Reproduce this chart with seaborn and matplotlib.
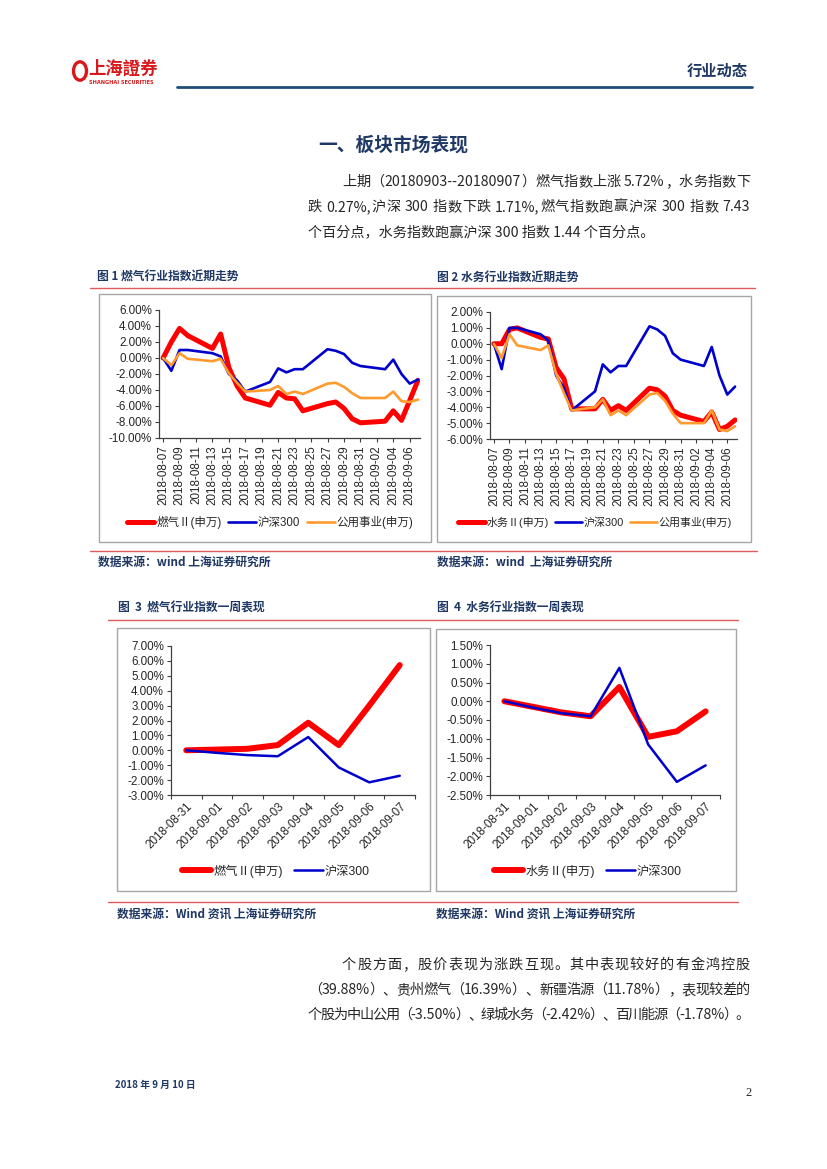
import re
import matplotlib
matplotlib.use("Agg")
import matplotlib.pyplot as plt
import matplotlib.dates as mdates
from matplotlib.lines import Line2D
from matplotlib.patches import Rectangle, Circle
from matplotlib.ticker import FuncFormatter, FixedLocator, NullFormatter
import seaborn as sns
import pandas as pd

# ---- data (percent change) ----
month_days = ["2018-08-07", "2018-08-08", "2018-08-09", "2018-08-10", "2018-08-13",
              "2018-08-14", "2018-08-15", "2018-08-16", "2018-08-17", "2018-08-20",
              "2018-08-21", "2018-08-22", "2018-08-23", "2018-08-24", "2018-08-27",
              "2018-08-28", "2018-08-29", "2018-08-30", "2018-08-31", "2018-09-03",
              "2018-09-04", "2018-09-05", "2018-09-06", "2018-09-07"]
gas_month = [0.0, 2.0, 3.7, 2.8, 1.2, 3.0, -1.2, -3.5, -5.0, -5.9,
             -4.3, -5.0, -5.1, -6.6, -5.7, -5.5, -6.3, -7.6, -8.1, -7.9,
             -6.6, -7.8, -5.3, -2.8]
water_month = [0.0, 0.0, 0.9, 1.0, 0.4, 0.3, -1.5, -2.2, -4.1, -4.1,
               -3.5, -4.2, -3.9, -4.2, -2.8, -2.9, -3.3, -4.2, -4.5, -4.9,
               -4.3, -5.4, -5.2, -4.8]
hs300_month = [0.0, -1.6, 1.0, 1.0, 0.6, 0.2, -2.0, -2.8, -4.2, -3.0,
               -1.3, -1.8, -1.4, -1.4, 1.1, 0.9, 0.5, -0.6, -1.0, -1.4,
               -0.2, -2.0, -3.2, -2.7]
utility_month = [0.0, -0.9, 0.6, -0.1, -0.4, -0.1, -1.9, -3.1, -4.2, -4.0,
                 -3.5, -4.5, -4.2, -4.5, -3.2, -3.1, -3.6, -4.4, -5.0, -5.0,
                 -4.2, -5.4, -5.5, -5.2]
month_ticks = ["2018-08-07", "2018-08-09", "2018-08-11", "2018-08-13", "2018-08-15",
               "2018-08-17", "2018-08-19", "2018-08-21", "2018-08-23", "2018-08-25",
               "2018-08-27", "2018-08-29", "2018-08-31", "2018-09-02", "2018-09-04",
               "2018-09-06"]

week_days = ["2018-08-31", "2018-09-01", "2018-09-02", "2018-09-03",
             "2018-09-04", "2018-09-05", "2018-09-06", "2018-09-07"]
gas_week = [0.00, 0.05, 0.10, 0.35, 1.85, 0.35, 3.00, 5.72]
water_week = [0.00, -0.15, -0.30, -0.40, 0.38, -0.95, -0.80, -0.27]
hs300_week = [0.00, -0.17, -0.32, -0.40, 0.89, -1.15, -2.15, -1.71]

# ---- style ----
sns.set_theme(style="ticks")
plt.rcParams['font.family'] = ['Liberation Sans', 'Noto Sans CJK SC', 'DejaVu Sans']
plt.rcParams['axes.unicode_minus'] = False

RED = "#FF0000"
BLUE = "#0000CC"
ORANGE = "#FF9A2E"
NAVY = "#1F3864"
LINE_RED = "#E05A5A"
CJK = ['Noto Sans CJK SC', 'DejaVu Sans']
TICK_SIZE = 8.4
BODY_SIZE = 10.2

W, H = 827, 1169
fig = plt.figure(figsize=(8.27, 11.69), dpi=100)
renderer = fig.canvas.get_renderer()


def rect(x0, y0, x1, y1):
    return [x0 / W, 1 - y1 / H, (x1 - x0) / W, (y1 - y0) / H]


def hline(x0, x1, y, color, lw):
    fig.add_artist(Line2D([x0 / W, x1 / W], [1 - y / H, 1 - y / H],
                          transform=fig.transFigure, color=color, lw=lw))


def frame(x0, y0, x1, y1):
    fig.add_artist(Rectangle((x0 / W, 1 - y1 / H), (x1 - x0) / W, (y1 - y0) / H,
                             transform=fig.transFigure, fill=False,
                             edgecolor="#A6A6A6", lw=1.0))


def txt(x, y, s, **kw):
    kw.setdefault("family", CJK)
    return fig.text(x / W, 1 - y / H, s, va="center", **kw)


def text_width(s, size):
    if not s:
        return 0.0
    t = fig.text(0, 0, s, fontsize=size, family=CJK)
    w = t.get_window_extent(renderer).width
    t.remove()
    return w


def justify(x0, x1, y, s, size=BODY_SIZE):
    # spread the line so that it fills x0..x1, like a justified paragraph
    toks = re.findall(r"[A-Za-z0-9.%,\-]+|\s|.", s)
    extra = (x1 - x0 - text_width(s, size)) / max(len(toks) - 1, 1)
    prefix = ""
    for i, tok in enumerate(toks):
        if tok.strip():
            txt(x0 + text_width(prefix, size) + i * extra, y, tok, fontsize=size)
        prefix += tok


def style_axes(ax, ylo, yhi, step):
    sns.despine(ax=ax)
    for sp in ("left", "bottom"):
        ax.spines[sp].set_color("#404040")
        ax.spines[sp].set_linewidth(0.9)
    ax.set_ylim(ylo, yhi)
    ax.set_yticks([ylo + i * step for i in range(int(round((yhi - ylo) / step)) + 1)])
    ax.yaxis.set_major_formatter(FuncFormatter(lambda v, p: f"{v:.2f}%"))
    ax.tick_params(axis="both", which="major", direction="out", length=3, width=0.8,
                   color="#404040", labelsize=TICK_SIZE, pad=2)
    ax.set_xlabel("")
    ax.set_ylabel("")
    ax.set_facecolor("none")


def legend(ax, cx, cy, size, colsp):
    ax.legend(loc="center", bbox_to_anchor=(cx / W, 1 - cy / H),
              bbox_transform=fig.transFigure, ncol=3, frameon=False,
              fontsize=size, handlelength=2.4, handletextpad=0.15,
              columnspacing=colsp)


# ---- month charts (date axis) ----
dates = pd.to_datetime(month_days)
month_df = pd.DataFrame({"date": dates, "gas": gas_month, "water": water_month,
                         "hs300": hs300_month, "utility": utility_month})


def month_chart(pos, main_col, main_label, ylo, yhi, step, leg_x, leg_size):
    ax = fig.add_axes(pos)
    sns.lineplot(data=month_df, x="date", y=main_col, color=RED, lw=3.6,
                 label=main_label, ax=ax, solid_joinstyle="round")
    sns.lineplot(data=month_df, x="date", y="hs300", color=BLUE, lw=1.9,
                 label="沪深300", ax=ax, solid_joinstyle="round")
    sns.lineplot(data=month_df, x="date", y="utility", color=ORANGE, lw=1.9,
                 label="公用事业(申万)", ax=ax, solid_joinstyle="round")
    style_axes(ax, ylo, yhi, step)
    ax.set_xlim(pd.Timestamp("2018-08-06 12:00"), pd.Timestamp("2018-09-07 06:00"))
    ax.set_xticks(pd.to_datetime(month_ticks))
    ax.xaxis.set_major_formatter(mdates.DateFormatter("%Y-%m-%d"))
    for lab in ax.get_xticklabels():
        lab.set_rotation(90)
    legend(ax, leg_x, 522, leg_size, 0.6)
    return ax


month_chart(rect(159, 310, 420, 438), "gas", "燃气Ⅱ(申万)", -10, 6, 2, 270, 8.3)
month_chart(rect(490, 312, 737, 439), "water", "水务Ⅱ(申万)", -6, 2, 1, 595, 7.9)

# ---- week charts (category axis) ----
week_df = pd.DataFrame({"pos": range(len(week_days)), "day": week_days,
                        "gas": gas_week, "water": water_week, "hs300": hs300_week})


def week_chart(pos, main_col, main_label, ylo, yhi, step, leg_x):
    ax = fig.add_axes(pos)
    sns.lineplot(data=week_df, x="pos", y=main_col, color=RED, lw=4.3,
                 label=main_label, ax=ax, solid_joinstyle="round",
                 solid_capstyle="round")
    sns.lineplot(data=week_df, x="pos", y="hs300", color=BLUE, lw=1.8,
                 label="沪深300", ax=ax, solid_joinstyle="round")
    style_axes(ax, ylo, yhi, step)
    n = len(week_days)
    ax.set_xlim(-0.5, n - 0.5)
    ax.xaxis.set_major_locator(FixedLocator([i - 0.5 for i in range(n + 1)]))
    ax.xaxis.set_major_formatter(NullFormatter())
    ax.xaxis.set_minor_locator(FixedLocator(list(range(n))))
    ax.set_xticklabels(week_days, minor=True, rotation=45, ha="right",
                       rotation_mode="anchor")
    ax.tick_params(axis="x", which="minor", length=0, labelsize=TICK_SIZE, pad=4)
    legend(ax, leg_x, 871, 8.8, 0.9)
    return ax


week_chart(rect(171, 646, 415, 795), "gas", "燃气Ⅱ(申万)", -3, 7, 1, 276)
week_chart(rect(490, 645, 720, 795), "water", "水务Ⅱ(申万)", -2.5, 1.5, 0.5, 588)

# ---- page decorations ----
fig.add_artist(Circle((80 / W, 1 - 71 / H), 6.5 / W, transform=fig.transFigure,
                      fill=False, edgecolor="#D7191C", lw=2.4))
txt(88, 69, "上海證券", color="#D7191C", fontsize=12.5, fontweight="bold")
txt(89, 82, "SHANGHAI SECURITIES", color="#D7191C", fontsize=3.6,
    family="DejaVu Sans", fontweight="bold")
txt(748, 71, "行业动态", color=NAVY, fontsize=11, fontweight="bold", ha="right")
hline(177, 752, 87, "#1F4E79", 2.0)

txt(393, 145, "一、板块市场表现", color=NAVY, fontsize=13.5, fontweight="bold", ha="center")
justify(342, 750, 182, "上期（20180903--20180907）燃气指数上涨 5.72%，水务指数下")
justify(308, 750, 207, "跌 0.27%,沪深 300 指数下跌 1.71%,燃气指数跑赢沪深 300 指数 7.43")
txt(308, 232, "个百分点，水务指数跑赢沪深 300 指数 1.44 个百分点。", fontsize=BODY_SIZE)

txt(97, 277, "图 1 燃气行业指数近期走势", color=NAVY, fontsize=8.5, fontweight="bold")
txt(437, 277, "图 2 水务行业指数近期走势", color=NAVY, fontsize=8.5, fontweight="bold")
hline(90, 755, 288, LINE_RED, 1.0)
frame(99, 294, 431, 542)
frame(437, 296, 751, 542)
hline(90, 757, 551, LINE_RED, 1.0)
txt(98, 562, "数据来源：wind 上海证券研究所", color=NAVY, fontsize=8.5,
    fontweight="bold", style="italic")
txt(437, 562, "数据来源：wind  上海证券研究所", color=NAVY, fontsize=8.5,
    fontweight="bold", style="italic")

txt(118, 608, "图  3  燃气行业指数一周表现", color=NAVY, fontsize=8.5, fontweight="bold")
txt(437, 608, "图  4  水务行业指数一周表现", color=NAVY, fontsize=8.5, fontweight="bold")
hline(108, 738, 620, LINE_RED, 1.0)
frame(117, 628, 430, 891)
frame(436, 629, 736, 891)
hline(108, 738, 902, LINE_RED, 1.0)
txt(117, 914, "数据来源：Wind 资讯 上海证券研究所", color=NAVY, fontsize=8.5,
    fontweight="bold", style="italic")
txt(436, 914, "数据来源：Wind 资讯 上海证券研究所", color=NAVY, fontsize=8.5,
    fontweight="bold", style="italic")

justify(342, 750, 965, "个股方面，股价表现为涨跌互现。其中表现较好的有金鸿控股")
justify(308, 750, 990, "（39.88%）、贵州燃气（16.39%）、新疆浩源（11.78%），表现较差的")
justify(308, 750, 1015, "个股为中山公用（-3.50%）、绿城水务（-2.42%）、百川能源（-1.78%）。")

txt(115, 1085, "2018 年 9 月 10 日", color=NAVY, fontsize=7, fontweight="bold")
txt(745, 1093, "2", fontsize=9, family=["Liberation Serif", "DejaVu Serif"])

fig.savefig("out.png", dpi=100)
